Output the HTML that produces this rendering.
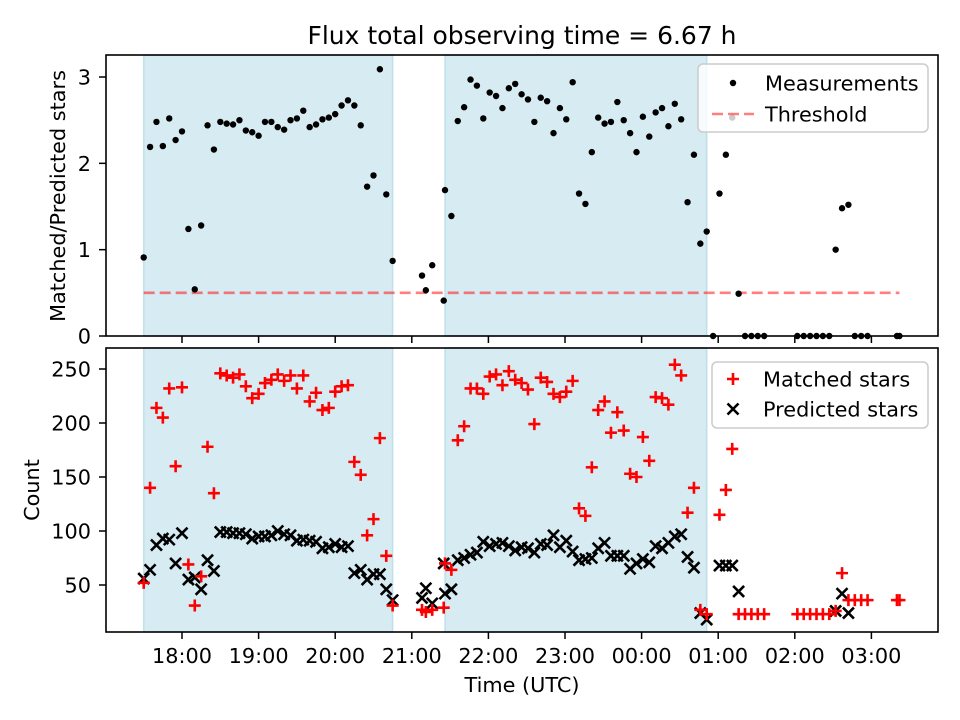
<!DOCTYPE html>
<html><head><meta charset="utf-8"><style>
html,body{margin:0;padding:0;background:#fff;}
svg{display:block;font-family:"DejaVu Sans","Liberation Sans",sans-serif;}
</style></head><body>
<svg id="chart" width="960" height="720" viewBox="0 0 960 720" xmlns="http://www.w3.org/2000/svg">
<rect x="0" y="0" width="960" height="720" fill="#fff"/>
<text x="522" y="44" font-size="25" text-anchor="middle" fill="#000">Flux total observing time = 6.67 h</text>
<g id="gtop"></g><g id="gbot"></g>
<text x="522" y="692" font-size="20.8" text-anchor="middle">Time (UTC)</text>
<text transform="translate(65,196) rotate(-90)" font-size="20.8" text-anchor="middle">Matched/Predicted stars</text>
<text transform="translate(39,490) rotate(-90)" font-size="20.8" text-anchor="middle">Count</text>
</svg>
<script>
// minutes after 17:00
const times = [30,35,40,45,50,55,60,65,70,75,80,85,90,95,100,105,110,115,120,125,130,135,140,145,150,155,160,165,170,175,180,185,190,195,200,205,210,215,220,225,
248,251,256,265,
266,271,276,281,286,291,296,301,306,311,316,321,326,331,336,341,346,351,356,361,366,371,376,381,386,391,396,401,406,411,416,421,426,431,436,441,446,451,456,461,466,471,
476,481,486,491,496,501,506,511,516,
542,547,552,557,562,567,572,577,582,587,592,597,620,622];
const ratio = [0.91,2.19,2.48,2.20,2.52,2.27,2.37,1.24,0.54,1.28,2.44,2.16,2.48,2.46,2.45,2.50,2.38,2.36,2.32,2.48,2.48,2.42,2.39,2.50,2.52,2.61,2.42,2.45,2.51,2.53,2.57,2.67,2.73,2.67,2.44,1.73,1.86,3.09,1.64,0.87,
0.70,0.53,0.82,0.41,
1.69,1.39,2.49,2.65,2.97,2.90,2.52,2.82,2.78,2.64,2.87,2.92,2.80,2.74,2.48,2.76,2.72,2.35,2.64,2.51,2.94,1.65,1.53,2.13,2.53,2.46,2.48,2.71,2.50,2.35,2.13,2.54,2.31,2.59,2.64,2.43,2.69,2.51,1.55,2.10,1.07,1.21,
0,1.65,2.10,2.53,0.49,0,0,0,0,
0,0,0,0,0,0,1.00,1.48,1.52,0,0,0,0,0];
const matched = [52,140,214,205,232,160,233,69,31,58,178,135,246,244,242,245,234,223,227,237,240,245,239,244,232,244,220,228,212,214,229,234,235,164,152,96,111,186,77,31,
27,25,27,29,
70,64,184,197,232,232,227,243,245,235,248,240,237,231,199,242,238,227,224,229,239,121,114,159,212,220,191,210,193,153,150,187,165,224,223,217,254,244,117,140,27,23,
null,115,138,176,23,23,23,23,23,
23,23,23,23,23,23,26,61,36,36,36,36,36,36];
const predicted = [56,64,87,93,92,70,98,55,57,46,73,63,99,99,98,98,97,93,95,95,96,100,97,96,91,92,91,90,84,85,88,85,86,61,64,55,60,60,46,36,
38,47,33,70,
42,46,73,75,78,80,90,86,88,89,86,82,85,84,80,88,87,96,85,91,81,73,74,75,84,89,77,77,77,65,70,74,71,86,84,89,95,97,76,66,24,18,
null,68,68,68,44,null,null,null,null,
null,null,null,null,null,null,26,42,24,null,null,null,null,null];
const spans = [[30,225],[266,471]];
const threshold = 0.5;
const xTickVals = [60,120,180,240,300,360,420,480,540,600];
const xTickLabels = ["18:00","19:00","20:00","21:00","22:00","23:00","00:00","01:00","02:00","03:00"];
const topTicks = [0,1,2,3];
const botTicks = [50,100,150,200,250];

const NS="http://www.w3.org/2000/svg";
const L=106,R=938,T1=55,B1=336,T2=348,B2=632;
const xs=m=>182+(m-60)/60*76.6;
const y1=v=>336-v*86.33;
const y2=v=>585-(v-50)*1.08;
function mk(p,tag,at){const e=document.createElementNS(NS,tag);for(const k in at)e.setAttribute(k,at[k]);p.appendChild(e);return e;}
const gTop=document.getElementById('gtop'), gBot=document.getElementById('gbot');

function panel(g,T,B,nm){
  for(const s of spans){
    const r=mk(g,'rect',{x:xs(s[0]),y:T,width:xs(s[1])-xs(s[0]),height:B-T,fill:'#add8e6','fill-opacity':0.5,stroke:'#add8e6','stroke-opacity':0.7,'stroke-width':1.5});
    
    
  }
  xTickVals.forEach((v,i)=>{
    const t=mk(g,'line',{x1:xs(v),x2:xs(v),y1:B,y2:B+7,stroke:'#000','stroke-width':1.5});
    
    
  });
}
panel(gTop,T1,B1,'top');
panel(gBot,T2,B2,'bottom');

const th=mk(gTop,'line',{x1:xs(times[0]),x2:xs(times[times.length-1]),y1:y1(threshold),y2:y1(threshold),stroke:'red','stroke-opacity':0.5,'stroke-width':2.6,'stroke-dasharray':'11 5'});



times.forEach((t,i)=>{
  if(ratio[i]!=null){
    const c=mk(gTop,'circle',{cx:xs(t),cy:y1(ratio[i]),r:3.2,fill:'#000'});
    
    
  }
});
times.forEach((t,i)=>{
  if(predicted[i]!=null){
    const x=xs(t),y=y2(predicted[i]),d=5.5;
    const p=mk(gBot,'path',{d:`M${x-d},${y-d}L${x+d},${y+d}M${x-d},${y+d}L${x+d},${y-d}`,stroke:'#000','stroke-width':2.6,fill:'none'});
    
    
  }
});
times.forEach((t,i)=>{
  if(matched[i]!=null){
    const x=xs(t),y=y2(matched[i]),d=6;
    const p=mk(gBot,'path',{d:`M${x-d},${y}L${x+d},${y}M${x},${y-d}L${x},${y+d}`,stroke:'#f00','stroke-width':2.6,fill:'none'});
    
    
  }
});

topTicks.forEach(v=>{
  const y=y1(v);
  const l=mk(gTop,'line',{x1:L-7,x2:L,y1:y,y2:y,stroke:'#000','stroke-width':1.5});
  
  
  const tx=mk(gTop,'text',{x:91,y:y+7.5,'font-size':20.8,'text-anchor':'end'});tx.textContent=v;
  
  
});
botTicks.forEach(v=>{
  const y=y2(v);
  const l=mk(gBot,'line',{x1:L-7,x2:L,y1:y,y2:y,stroke:'#000','stroke-width':1.5});
  
  
  const tx=mk(gBot,'text',{x:91,y:y+7.5,'font-size':20.8,'text-anchor':'end'});tx.textContent=v;
  
  
});
xTickVals.forEach((v,i)=>{
  const tx=mk(gBot,'text',{x:xs(v),y:663,'font-size':20.8,'text-anchor':'middle'});tx.textContent=xTickLabels[i];
  
  
});

const f1=mk(gTop,'rect',{x:L,y:T1,width:R-L,height:B1-T1,fill:'none',stroke:'#000','stroke-width':1.6});


const f2=mk(gBot,'rect',{x:L,y:T2,width:R-L,height:B2-T2,fill:'none',stroke:'#000','stroke-width':1.6});



const lg1=mk(gTop,'g',{});


mk(lg1,'rect',{x:698,y:64,width:230,height:68,rx:5,fill:'#fff','fill-opacity':0.8,stroke:'#ccc','stroke-width':1.5});
mk(lg1,'circle',{cx:733,cy:83,r:3.2,fill:'#000'});
let lt=mk(lg1,'text',{x:765,y:90.5,'font-size':20.8});lt.textContent='Measurements';
mk(lg1,'line',{x1:712,x2:754,y1:114,y2:114,stroke:'red','stroke-opacity':0.5,'stroke-width':2.6,'stroke-dasharray':'11 5'});
lt=mk(lg1,'text',{x:765,y:121.5,'font-size':20.8});lt.textContent='Threshold';

const lg2=mk(gBot,'g',{});


mk(lg2,'rect',{x:712,y:362,width:216,height:66,rx:5,fill:'#fff','fill-opacity':0.8,stroke:'#ccc','stroke-width':1.5});
mk(lg2,'path',{d:'M727,379L739,379M733,373L733,385',stroke:'#f00','stroke-width':2.6});
lt=mk(lg2,'text',{x:763,y:386.5,'font-size':20.8});lt.textContent='Matched stars';
mk(lg2,'path',{d:'M727.5,403.5L738.5,414.5M727.5,414.5L738.5,403.5',stroke:'#000','stroke-width':2.6});
lt=mk(lg2,'text',{x:763,y:416.5,'font-size':20.8});lt.textContent='Predicted stars';
</script>
</body></html>
